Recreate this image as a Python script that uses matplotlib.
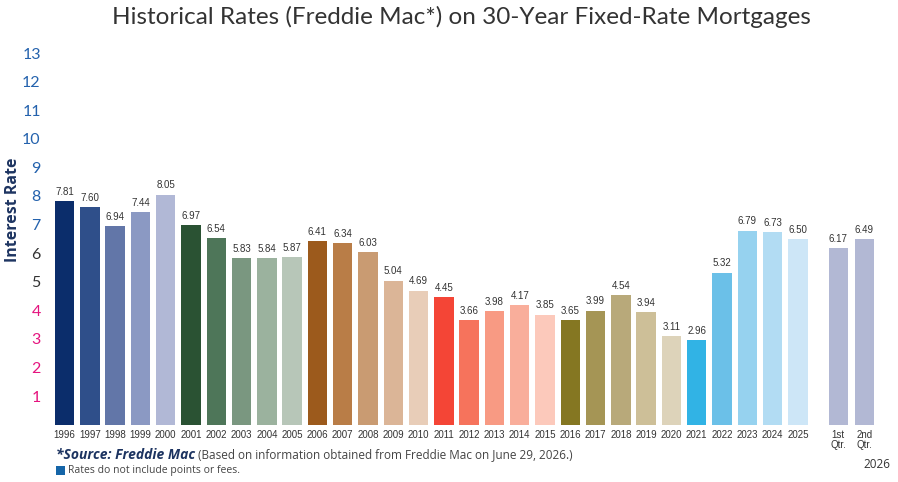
import matplotlib
matplotlib.use("Agg")
import matplotlib.pyplot as plt
from matplotlib.patches import Rectangle

years = [str(y) for y in range(1996, 2026)]
rates = [7.81, 7.60, 6.94, 7.44, 8.05, 6.97, 6.54, 5.83, 5.84, 5.87,
         6.41, 6.34, 6.03, 5.04, 4.69, 4.45, 3.66, 3.98, 4.17, 3.85,
         3.65, 3.99, 4.54, 3.94, 3.11, 2.96, 5.32, 6.79, 6.73, 6.50]
qtr_labels = ["1st\nQtr.", "2nd\nQtr."]
qtr_rates = [6.17, 6.49]

year_colors = ["#0b2d6b", "#2f4f8a", "#6276a8", "#8b99c3", "#b1b8d6",
               "#2a5233", "#4e7659", "#7a9780", "#9bb29e", "#b7c6b8",
               "#9c5a1c", "#b97d47", "#c99b72", "#dbb597", "#e8cdb8",
               "#f44536", "#f6735c", "#f89a83", "#f9ae9b", "#fcc9bb",
               "#857722", "#a59555", "#b8a97a", "#cdbf98", "#ddd3ba",
               "#31b3e5", "#6bc0e8", "#96d2ef", "#b2dcf3", "#cde6f7"]
qtr_color = "#b2b8d4"

yticks = list(range(1, 14))
ytick_colors = ["#e5147f"] * 4 + ["#333333"] * 2 + ["#2462ad"] * 7

narrow = ["Liberation Sans", "DejaVu Sans"]
plain = ["Open Sans", "DejaVu Sans"]
lato = ["Lato", "Open Sans", "DejaVu Sans"]

fig = plt.figure(figsize=(8.98, 4.82), dpi=100)
ax = fig.add_axes([0.0578, 0.119, 0.918, 0.8006])

xs = list(range(len(years)))
qxs = [30.6, 31.63]
ax.bar(xs, rates, width=0.77, color=year_colors)
ax.bar(qxs, qtr_rates, width=0.77, color=qtr_color)

for x, v in zip(xs + qxs, rates + qtr_rates):
    ax.annotate(f"{v:.2f}", (x, v), xytext=(0, 3), textcoords="offset points",
                ha="center", va="bottom", fontsize=7, color="#333333", family=narrow)

ax.set_xlim(-0.5, 32.1)
ax.set_ylim(0, 13.5)
ax.set_xticks(xs + qxs)
ax.set_xticklabels(years + qtr_labels, fontsize=7, family=narrow, color="#333333",
                   linespacing=0.95, va="top")
ax.tick_params(axis="x", length=0, pad=4)
ax.set_yticks(yticks)
ax.set_yticklabels([str(t) for t in yticks], fontsize=11.5, family=lato)
for lab, c in zip(ax.get_yticklabels(), ytick_colors):
    lab.set_color(c)
ax.tick_params(axis="y", length=0, pad=8)
for s in ax.spines.values():
    s.set_visible(False)

fig.text(0.0145, 0.564, "Interest Rate", rotation=90, ha="center", va="center",
         fontsize=11.5, fontweight="bold", color="#1d3461", family=plain)
fig.text(0.514, 0.965, "Historical Rates (Freddie Mac*) on 30-Year Fixed-Rate Mortgages",
         ha="center", va="center", fontsize=17.5, color="#333333", family=lato)

src = fig.text(0.062, 0.056, "*Source: Freddie Mac", fontsize=10, fontweight="bold",
               fontstyle="italic", color="#1d3461", family=plain, va="center")
fig.canvas.draw()
ax.annotate(" (Based on information obtained from Freddie Mac on June 29, 2026.)",
            xy=(1, 0.5), xycoords=src, va="center", ha="left",
            fontsize=8.5, color="#444444", family=plain, annotation_clip=False)
fig.patches.append(Rectangle((0.0625, 0.0145), 0.0095, 0.019, transform=fig.transFigure,
                             facecolor="#1565a8", edgecolor="none"))
fig.text(0.076, 0.023, "Rates do not include points or fees.", fontsize=7.5,
         color="#444444", family=plain, va="center")
fig.text(0.9765, 0.037, "2026", ha="center", va="center", fontsize=8.5,
         color="#333333", family=plain)

fig.savefig("out.png", dpi=100)
